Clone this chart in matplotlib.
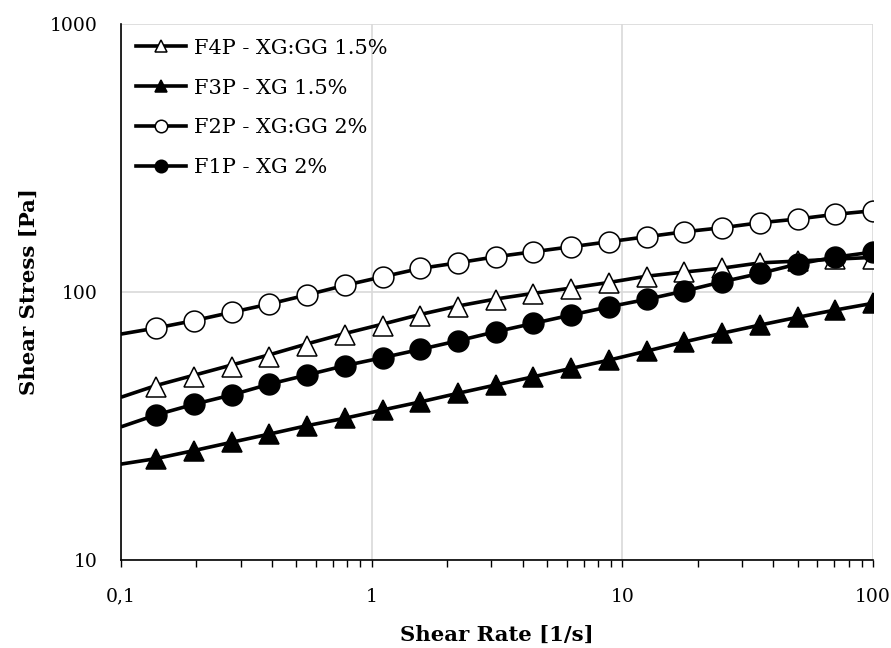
import matplotlib
matplotlib.use('Agg')
import matplotlib.pyplot as plt
from matplotlib.lines import Line2D
from matplotlib.ticker import FixedLocator, FixedFormatter, LogLocator, NullFormatter

plt.rcParams['font.family'] = ['DejaVu Serif']

# ---- data ----
shear_rate = [0.138, 0.195, 0.276, 0.39, 0.55, 0.78, 1.105, 1.5625, 2.21, 3.125,
              4.42, 6.25, 8.84, 12.5, 17.7, 25, 35.4, 50, 70.7, 100]

f4p = [44.1, 48.1, 52.6, 57.4, 63.1, 69.1, 74.9, 81.4, 87.7, 93.3,
       98.0, 102.6, 107.8, 114.0, 119.0, 122.5, 128.0, 130.5, 132.5, 133.0]
f3p = [23.9, 25.6, 27.5, 29.5, 31.7, 33.8, 36.3, 38.9, 41.9, 45.0,
       48.3, 51.9, 55.7, 60.2, 65.2, 70.2, 75.3, 80.5, 85.7, 90.8]
f2p = [73.4, 78.2, 84.0, 90.2, 97.5, 105.9, 114.0, 122.5, 128.6, 135.4,
       141.4, 147.6, 154.1, 160.8, 167.9, 173.8, 181.4, 187.3, 195.0, 201.1]
f1p = [34.8, 38.1, 41.3, 45.3, 49.0, 53.1, 56.9, 61.1, 65.8, 71.1,
       76.4, 82.1, 88.1, 93.9, 100.9, 109.2, 117.4, 127.2, 135.0, 141.0]

# fitted curves (start at 0.1 1/s)
fit_rate = [0.1, 0.138, 0.195, 0.276, 0.39, 0.55, 0.78, 1.105, 1.5625, 2.21, 3.125,
            4.42, 6.25, 8.84, 12.5, 17.7, 25, 35.4, 50, 70.7, 100]
f4p_fit = [40.5, 44.8, 48.9, 53.4, 58.3, 64.0, 70.0, 75.9, 82.5, 88.7, 94.2,
           98.9, 103.5, 108.6, 114.6, 118.8, 122.8, 128.5, 130.5, 132.7, 134.7]
f3p_fit = [22.8, 23.9, 25.6, 27.5, 29.5, 31.7, 33.8, 36.3, 38.9, 41.9, 45.0,
           48.3, 51.9, 55.7, 60.2, 65.2, 70.2, 75.3, 80.5, 85.7, 90.8]
f2p_fit = [69.7, 73.4, 78.2, 84.0, 90.2, 97.5, 105.9, 114.0, 122.5, 128.6, 135.4,
           141.4, 147.6, 154.1, 160.8, 167.9, 173.8, 181.4, 187.3, 195.0, 201.1]
f1p_fit = [31.4, 34.8, 38.1, 41.3, 45.3, 49.0, 53.1, 56.9, 61.1, 65.8, 71.1,
           76.4, 82.1, 88.1, 93.9, 100.9, 109.2, 117.4, 127.2, 135.0, 141.0]

labels = ['F4P - XG:GG 1.5%', 'F3P - XG 1.5%', 'F2P - XG:GG 2%', 'F1P - XG 2%']
markers = ['^', '^', 'o', 'o']
faces = ['white', 'black', 'white', 'black']

x_ticks = [0.1, 1, 10, 100]
x_ticklabels = ['0,1', '1', '10', '100']
y_ticks = [10, 100, 1000]
y_ticklabels = ['10', '100', '1000']

# ---- plot ----
fig = plt.figure(figsize=(8.91, 6.48), dpi=100)
ax = fig.add_axes([0.1358, 0.1358, 0.844, 0.827])

series = [(f4p, f4p_fit), (f3p, f3p_fit), (f2p, f2p_fit), (f1p, f1p_fit)]
handles = []
for (vals, fit), lab, mk, fc in zip(series, labels, markers, faces):
    ax.plot(fit_rate, fit, color='black', lw=2.6, solid_capstyle='butt', zorder=3)
    ax.plot(shear_rate, vals, ls='none', marker=mk, markersize=15,
            markerfacecolor=fc, markeredgecolor='black', markeredgewidth=1.1, zorder=4)
    handles.append(Line2D([], [], color='black', lw=2.6, marker=mk, markersize=9,
                          markerfacecolor=fc, markeredgecolor='black',
                          markeredgewidth=1.1, label=lab))

ax.set_xscale('log')
ax.set_yscale('log')
ax.set_xlim(0.1, 100)
ax.set_ylim(10, 1000)

ax.xaxis.set_major_locator(FixedLocator(x_ticks))
ax.xaxis.set_major_formatter(FixedFormatter(x_ticklabels))
ax.xaxis.set_minor_locator(LogLocator(base=10, subs=range(2, 10)))
ax.xaxis.set_minor_formatter(NullFormatter())
ax.yaxis.set_major_locator(FixedLocator(y_ticks))
ax.yaxis.set_major_formatter(FixedFormatter(y_ticklabels))
ax.yaxis.set_minor_formatter(NullFormatter())

ax.tick_params(axis='x', which='both', direction='out', length=5, width=1,
               labelsize=13.5, pad=15)
ax.tick_params(axis='y', which='both', length=0, labelsize=13.5, pad=17)

ax.grid(True, which='major', color='#d9d9d9', lw=1.2)
ax.set_axisbelow(True)
for side in ['top', 'right']:
    ax.spines[side].set_visible(False)
for side in ['left', 'bottom']:
    ax.spines[side].set_linewidth(1.2)

ax.set_xlabel('Shear Rate [1/s]', fontsize=15.3, fontweight='bold', labelpad=14)
ax.set_ylabel('Shear Stress [Pa]', fontsize=15.3, fontweight='bold', labelpad=8)

ax.legend(handles=handles, loc='upper left', bbox_to_anchor=(0.0, 1.0), frameon=False,
          fontsize=15, handlelength=2.4, handletextpad=0.4, labelspacing=1.0,
          borderaxespad=0.2, borderpad=0.5)

fig.savefig('out.png', dpi=100)
